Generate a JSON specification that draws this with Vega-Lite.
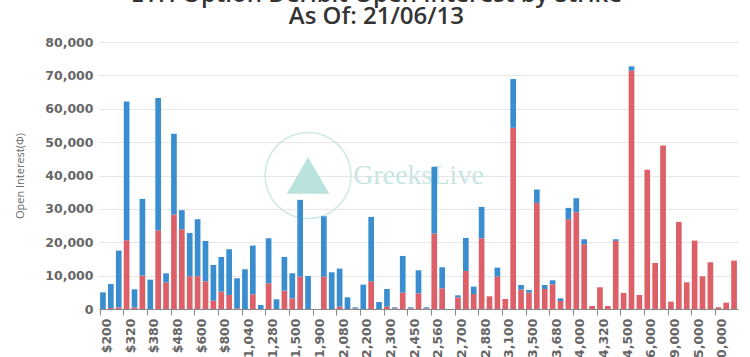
{
  "$schema": "https://vega.github.io/schema/vega-lite/v6.json",
  "width": 639,
  "height": 267,
  "autosize": {"type": "none"},
  "padding": {"left": 99, "top": 42, "right": 12, "bottom": 48},
  "background": "white",
  "title": {
    "text": ["ETH Option Deribit Open Interest by Strike", "As Of: 21/06/13"],
    "fontSize": 24,
    "font": "Open Sans",
    "fontWeight": 600,
    "color": "#333333",
    "lineHeight": 22,
    "anchor": "middle",
    "frame": "bounds",
    "offset": 7
  },
  "config": {
    "view": {"stroke": null},
    "axis": {"labelFont": "DejaVu Sans", "titleFont": "Open Sans"}
  },
  "datasets": {
    "oi": [
      {"strike": "$200", "Calls": 0, "Puts": 5000},
      {"strike": "$240", "Calls": 300, "Puts": 7200},
      {"strike": "$280", "Calls": 500, "Puts": 17000},
      {"strike": "$320", "Calls": 20600, "Puts": 41600},
      {"strike": "$340", "Calls": 500, "Puts": 5400},
      {"strike": "$360", "Calls": 10000, "Puts": 23000},
      {"strike": "$380", "Calls": 0, "Puts": 8800},
      {"strike": "$400", "Calls": 23600, "Puts": 39600},
      {"strike": "$440", "Calls": 8000, "Puts": 2700},
      {"strike": "$480", "Calls": 28300, "Puts": 24200},
      {"strike": "$520", "Calls": 23900, "Puts": 5700},
      {"strike": "$560", "Calls": 9800, "Puts": 13000},
      {"strike": "$600", "Calls": 9800, "Puts": 17100},
      {"strike": "$640", "Calls": 8300, "Puts": 12100},
      {"strike": "$720", "Calls": 2500, "Puts": 10700},
      {"strike": "$800", "Calls": 5200, "Puts": 10400},
      {"strike": "$880", "Calls": 4200, "Puts": 13700},
      {"strike": "$960", "Calls": 200, "Puts": 9000},
      {"strike": "$1,040", "Calls": 0, "Puts": 11900},
      {"strike": "$1,120", "Calls": 4400, "Puts": 14600},
      {"strike": "$1,200", "Calls": 0, "Puts": 1200},
      {"strike": "$1,280", "Calls": 7700, "Puts": 13500},
      {"strike": "$1,360", "Calls": 0, "Puts": 2900},
      {"strike": "$1,440", "Calls": 5500, "Puts": 10100},
      {"strike": "$1,500", "Calls": 3200, "Puts": 7500},
      {"strike": "$1,600", "Calls": 9700, "Puts": 23000},
      {"strike": "$1,800", "Calls": 0, "Puts": 9900},
      {"strike": "$1,900", "Calls": 0, "Puts": 0},
      {"strike": "$2,000", "Calls": 9700, "Puts": 18100},
      {"strike": "$2,040", "Calls": 0, "Puts": 11000},
      {"strike": "$2,080", "Calls": 700, "Puts": 11400},
      {"strike": "$2,120", "Calls": 0, "Puts": 3500},
      {"strike": "$2,160", "Calls": 200, "Puts": 300},
      {"strike": "$2,200", "Calls": 0, "Puts": 7300},
      {"strike": "$2,240", "Calls": 8300, "Puts": 19300},
      {"strike": "$2,280", "Calls": 0, "Puts": 2100},
      {"strike": "$2,300", "Calls": 700, "Puts": 5300},
      {"strike": "$2,350", "Calls": 200, "Puts": 300},
      {"strike": "$2,400", "Calls": 4900, "Puts": 11000},
      {"strike": "$2,450", "Calls": 200, "Puts": 300},
      {"strike": "$2,500", "Calls": 4700, "Puts": 6900},
      {"strike": "$2,520", "Calls": 200, "Puts": 300},
      {"strike": "$2,560", "Calls": 22600, "Puts": 20000},
      {"strike": "$2,600", "Calls": 6200, "Puts": 6300},
      {"strike": "$2,640", "Calls": 0, "Puts": 0},
      {"strike": "$2,700", "Calls": 3500, "Puts": 600},
      {"strike": "$2,720", "Calls": 11400, "Puts": 9900},
      {"strike": "$2,800", "Calls": 4500, "Puts": 2200},
      {"strike": "$2,880", "Calls": 21200, "Puts": 9400},
      {"strike": "$2,900", "Calls": 3800, "Puts": 0},
      {"strike": "$3,000", "Calls": 9700, "Puts": 2700},
      {"strike": "$3,100", "Calls": 3000, "Puts": 0},
      {"strike": "$3,200", "Calls": 54300, "Puts": 14600},
      {"strike": "$3,300", "Calls": 5800, "Puts": 1400},
      {"strike": "$3,500", "Calls": 4900, "Puts": 800},
      {"strike": "$3,520", "Calls": 31800, "Puts": 4000},
      {"strike": "$3,600", "Calls": 6000, "Puts": 1200},
      {"strike": "$3,680", "Calls": 7400, "Puts": 1200},
      {"strike": "$3,800", "Calls": 2400, "Puts": 800},
      {"strike": "$3,900", "Calls": 26900, "Puts": 3400},
      {"strike": "$4,000", "Calls": 29000, "Puts": 4200},
      {"strike": "$4,080", "Calls": 19400, "Puts": 1500},
      {"strike": "$4,200", "Calls": 900, "Puts": 0},
      {"strike": "$4,320", "Calls": 6500, "Puts": 0},
      {"strike": "$4,400", "Calls": 900, "Puts": 0},
      {"strike": "$4,480", "Calls": 20400, "Puts": 500},
      {"strike": "$4,500", "Calls": 4800, "Puts": 0},
      {"strike": "$5,000", "Calls": 71400, "Puts": 1300},
      {"strike": "$5,500", "Calls": 4200, "Puts": 0},
      {"strike": "$6,000", "Calls": 41700, "Puts": 0},
      {"strike": "$7,000", "Calls": 13800, "Puts": 0},
      {"strike": "$8,000", "Calls": 49000, "Puts": 0},
      {"strike": "$9,000", "Calls": 2200, "Puts": 0},
      {"strike": "$10,000", "Calls": 26100, "Puts": 0},
      {"strike": "$12,000", "Calls": 8000, "Puts": 0},
      {"strike": "$15,000", "Calls": 20500, "Puts": 0},
      {"strike": "$16,000", "Calls": 9800, "Puts": 0},
      {"strike": "$18,000", "Calls": 14000, "Puts": 0},
      {"strike": "$20,000", "Calls": 500, "Puts": 0},
      {"strike": "$25,000", "Calls": 1900, "Puts": 0},
      {"strike": "$30,000", "Calls": 14500, "Puts": 0}
    ],
    "logo": [
      {"strike": "$1,800", "oi": 40000}
    ],
    "brand": [
      {"strike": "$2,500", "oi": 40000, "label": "GreeksLive"}
    ]
  },
  "encoding": {
    "x": {
      "field": "strike",
      "type": "nominal",
      "scale": {
        "paddingInner": 0.28,
        "paddingOuter": 0.14,
        "domain": ["$200", "$240", "$280", "$320", "$340", "$360", "$380", "$400", "$440", "$480", "$520", "$560", "$600", "$640", "$720", "$800", "$880", "$960", "$1,040", "$1,120", "$1,200", "$1,280", "$1,360", "$1,440", "$1,500", "$1,600", "$1,800", "$1,900", "$2,000", "$2,040", "$2,080", "$2,120", "$2,160", "$2,200", "$2,240", "$2,280", "$2,300", "$2,350", "$2,400", "$2,450", "$2,500", "$2,520", "$2,560", "$2,600", "$2,640", "$2,700", "$2,720", "$2,800", "$2,880", "$2,900", "$3,000", "$3,100", "$3,200", "$3,300", "$3,500", "$3,520", "$3,600", "$3,680", "$3,800", "$3,900", "$4,000", "$4,080", "$4,200", "$4,320", "$4,400", "$4,480", "$4,500", "$5,000", "$5,500", "$6,000", "$7,000", "$8,000", "$9,000", "$10,000", "$12,000", "$15,000", "$16,000", "$18,000", "$20,000", "$25,000", "$30,000"]
      },
      "axis": {
        "title": null,
        "values": ["$200", "$320", "$380", "$480", "$600", "$800", "$1,040", "$1,280", "$1,500", "$1,900", "$2,080", "$2,200", "$2,300", "$2,450", "$2,560", "$2,700", "$2,880", "$3,100", "$3,500", "$3,680", "$4,000", "$4,320", "$4,500", "$6,000", "$9,000", "$15,000", "$20,000"],
        "bandPosition": 0,
        "labelOffset": 4,
        "labelAngle": -90,
        "labelAlign": "right",
        "labelBaseline": "middle",
        "labelFontSize": 12.5,
        "labelFontWeight": "bold",
        "labelColor": "#666666",
        "labelPadding": 3,
        "tickSize": 6,
        "tickColor": "#888888",
        "domainColor": "#888888",
        "grid": false
      }
    },
    "y": {
      "field": "oi",
      "type": "quantitative",
      "scale": {"domain": [0, 80000], "nice": false},
      "axis": {
        "title": "Open Interest(Φ)",
        "titleFontSize": 11,
        "titleFontWeight": "normal",
        "titleColor": "#666666",
        "titlePadding": 19,
        "values": [0, 10000, 20000, 30000, 40000, 50000, 60000, 70000, 80000],
        "format": ",d",
        "labelFontSize": 12.5,
        "labelFontWeight": "bold",
        "labelColor": "#666666",
        "labelPadding": 6,
        "domain": false,
        "ticks": false,
        "gridColor": "#e6e6e6"
      }
    }
  },
  "layer": [
    {
      "data": {"name": "logo"},
      "mark": {"type": "point", "shape": "circle", "size": 7400, "filled": false, "stroke": "#cfeae6", "strokeWidth": 1.6, "opacity": 1}
    },
    {
      "data": {"name": "logo"},
      "mark": {"type": "point", "shape": "triangle-up", "size": 1800, "filled": true, "fill": "#b2e0da", "opacity": 0.9}
    },
    {
      "data": {"name": "brand"},
      "mark": {"type": "text", "font": "Liberation Serif", "fontSize": 28, "color": "#c7e6e2", "align": "center", "baseline": "middle"},
      "encoding": {"text": {"field": "label"}}
    },
    {
      "data": {"name": "oi"},
      "transform": [
        {"fold": ["Calls", "Puts"], "as": ["type", "oi"]}
      ],
      "mark": {"type": "bar"},
      "encoding": {
        "y": {"field": "oi", "type": "quantitative", "stack": "zero"},
        "color": {
          "field": "type",
          "type": "nominal",
          "scale": {"domain": ["Calls", "Puts"], "range": ["#DD6068", "#3A8ECF"]},
          "legend": null
        },
        "order": {"field": "type", "sort": "ascending"}
      }
    }
  ]
}
